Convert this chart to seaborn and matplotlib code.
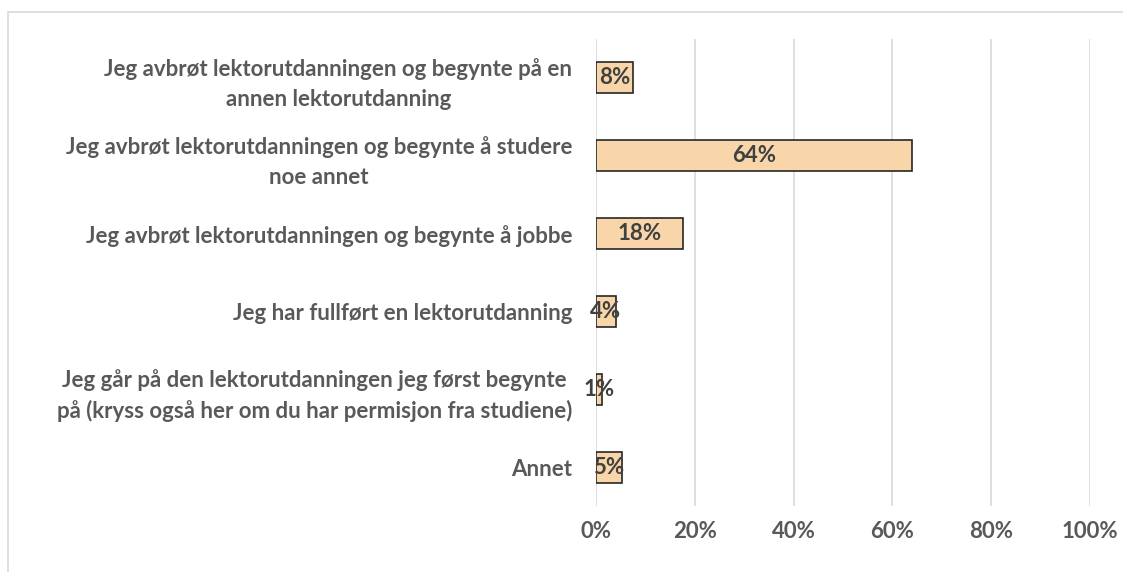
import matplotlib
matplotlib.use("Agg")
import matplotlib.pyplot as plt
import matplotlib.patches as mpatches
import pandas as pd
import seaborn as sns

# survey answers, top to bottom
categories = [
    "Jeg avbrøt lektorutdanningen og begynte på en\nannen lektorutdanning",
    "Jeg avbrøt lektorutdanningen og begynte å studere\nnoe annet",
    "Jeg avbrøt lektorutdanningen og begynte å jobbe",
    "Jeg har fullført en lektorutdanning",
    "Jeg går på den lektorutdanningen jeg først begynte\npå (kryss også her om du har permisjon fra studiene)",
    "Annet",
]
shares = [0.075, 0.64, 0.176, 0.04, 0.013, 0.052]
labels = ["8%", "64%", "18%", "4%", "1%", "5%"]
ticks = [0, 0.2, 0.4, 0.6, 0.8, 1.0]

df = pd.DataFrame({"kategori": categories, "andel": shares})

sns.set_style("white")
plt.rcParams["font.family"] = ["Lato", "DejaVu Sans"]

fig = plt.figure(figsize=(11.23, 5.72), dpi=100)
ax = fig.add_axes([0.5307, 0.1154, 0.4399, 0.8164])

sns.barplot(data=df, y="kategori", x="andel", orient="h", color="#F9D6AA",
            saturation=1, edgecolor="#262626", linewidth=1.2, width=0.4, ax=ax)

for i, (v, lab) in enumerate(zip(shares, labels)):
    ax.text(v / 2, i, lab, ha="center", va="center", fontsize=16,
            fontweight="bold", color="#404040")

ax.set_xlim(0, 1)
ax.set_xticks(ticks)
ax.set_xticklabels([f"{int(t * 100)}%" for t in ticks])
ax.set_xlabel("")
ax.set_ylabel("")
ax.xaxis.grid(True, color="#D9D9D9", linewidth=1.2)
ax.set_axisbelow(True)
for s in ax.spines.values():
    s.set_visible(False)
ax.tick_params(axis="both", length=0, labelsize=16, labelcolor="#595959")
ax.tick_params(axis="y", pad=17)
ax.tick_params(axis="x", pad=11)
for t in ax.get_xticklabels() + ax.get_yticklabels():
    t.set_fontweight("bold")
for t in ax.get_yticklabels():
    t.set_horizontalalignment("right")
    t.set_multialignment("center")
    t.set_linespacing(1.5)

# chart area border
fig.patches.append(mpatches.Rectangle((8 / 1123, -0.1), 1.2, 1 - 12 / 572 + 0.1,
                                      transform=fig.transFigure, fill=False,
                                      edgecolor="#D9D9D9", linewidth=1.2))

fig.savefig("out.png", dpi=100)
